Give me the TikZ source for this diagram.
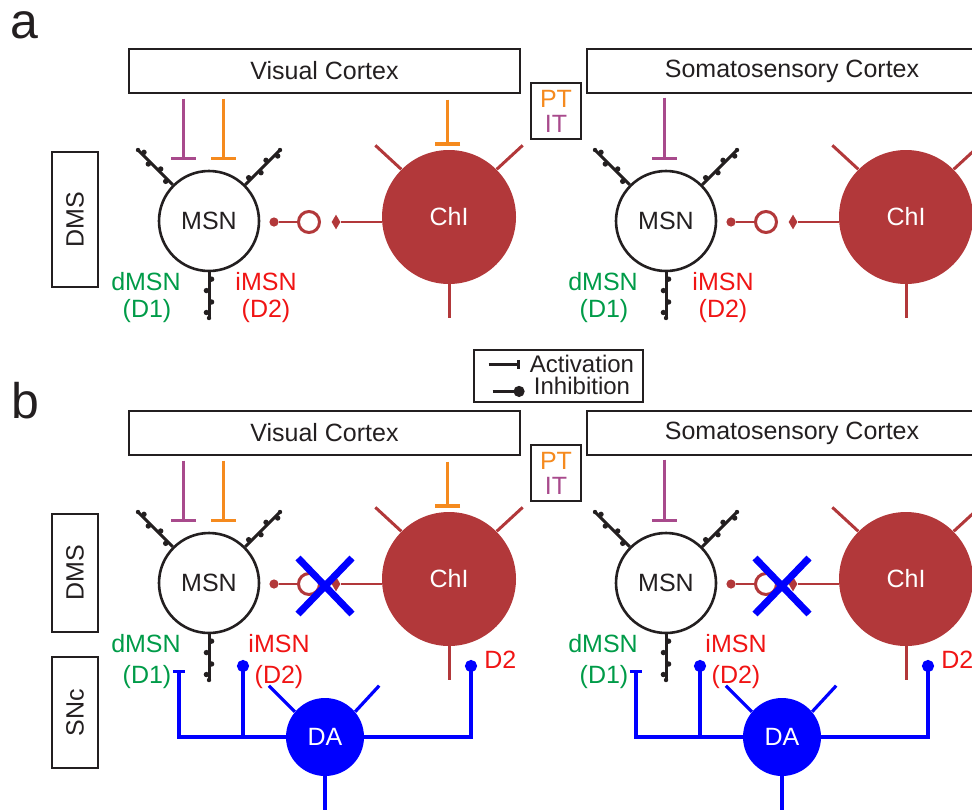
\documentclass[tikz,border=0pt]{standalone}
\usepackage{fontspec}
\setmainfont{Liberation Sans}
\usetikzlibrary{calc,shapes.geometric,arrows.meta}

\definecolor{ink}{RGB}{35,31,32}
\definecolor{itpurple}{RGB}{168,74,140}
\definecolor{ptorange}{RGB}{245,138,30}
\definecolor{chired}{RGB}{178,56,58}
\definecolor{dgreen}{RGB}{0,155,72}
\definecolor{ired}{RGB}{240,20,20}
\definecolor{dablue}{RGB}{0,0,255}

% spiny dendrite from soma border to tip
\newcommand{\spiny}[2]{%
  \draw[dend] (#1) -- (#2);
  \fill[ink] (#2) circle (1.1pt);
  \foreach \fr/\sd in {0.15/90,0.4/-90,0.65/90,0.88/-90}
    \fill[ink] ($(#1)!\fr!(#2)!1.3pt!\sd:(#2)$) circle (1.35pt);
}

\begin{document}
\begin{tikzpicture}[x=0.5pt,y=-0.5pt,
    every node/.style={font=\fontsize{12.5}{15}\selectfont,text=ink,inner sep=0pt},
    box/.style={draw=ink,line width=1.4pt,minimum height=22pt},
    sidebox/.style={draw=ink,line width=1.4pt,rotate=90,minimum height=23pt},
    soma/.style={circle,draw=ink,line width=1.3pt,minimum size=50pt},
    chi/.style={circle,fill=chired,minimum size=67pt,text=white},
    da/.style={circle,fill=dablue,minimum size=39pt,text=white},
    dend/.style={ink,line width=1.5pt},
    chiden/.style={chired,line width=1.5pt},
    daden/.style={dablue,line width=1.6pt},
    itin/.style={itpurple,line width=1.5pt,-{Bar[width=12.5pt,line width=1.6pt]}},
    ptin/.style={ptorange,line width=1.5pt,-{Bar[width=12.5pt,line width=1.6pt]}},
    syn/.style={chired,line width=1.2pt},
    rdot/.style={circle,fill=chired,minimum size=4.6pt},
    ring/.style={circle,draw=chired,fill=white,line width=1.5pt,minimum size=10.5pt},
    term/.style={diamond,fill=chired,minimum width=4.5pt,minimum height=7.5pt},
    cross/.style={dablue,line width=3.5pt},
    panel/.style={font=\fontsize{25}{30}\selectfont,anchor=base west},
    leg/.style={ink,line width=1.3pt},
    legtext/.style={font=\fontsize{12}{14}\selectfont,anchor=base}]
\useasboundingbox (0,0) rectangle (972,809);
\clip (0,0) rectangle (972,809);

\node[panel] (pa) at (10,38) {a};
\node[panel] (pb) at (11,418) {b};

\foreach \p/\dy/\lo/\li/\dmsy/\dmsl in {a/0/96/57/219.5/67.5,b/362/100/70/211/59}{
  \begin{scope}[shift={(0,\dy)}]
    \node[box,minimum width=195.5pt] (vis\p) at (324.5,71) {Visual Cortex};
    \node[box,minimum width=205pt] (som\p) at (792,71) {Somatosensory Cortex};
    \node[draw=ink,line width=1.4pt,minimum width=25pt,minimum height=28pt,align=center,
          font=\fontsize{12.5}{12.5}\selectfont] (ptit\p) at (556,111)
          {\textcolor{ptorange}{PT}\\\textcolor{itpurple}{IT}};
    \node[sidebox,minimum width=\dmsl pt] (dms\p) at (75,\dmsy) {DMS};
    \foreach \h/\dx in {l/0,r/457}{
      \begin{scope}[shift={(\dx,0)}]
        \node[soma] (msn\p\h) at (209,221) {MSN};
        \node[chi] (chi\p\h) at (449,217) {ChI};
        % spiny dendrites
        \coordinate (tl\p\h) at (138,150);
        \coordinate (tr\p\h) at (280,150);
        \coordinate (tb\p\h) at (209,318);
        \spiny{msn\p\h.135}{tl\p\h}
        \spiny{msn\p\h.45}{tr\p\h}
        \spiny{msn\p\h.south}{tb\p\h}
        \draw[chiden] (chi\p\h.135) -- ++(-26,-24);
        \draw[chiden] (chi\p\h.45) -- ++(26,-24);
        \draw[chiden] (chi\p\h.south) -- ++(0,34);
        % cholinergic synapse
        \node[rdot] (pre\p\h) at (274,222) {};
        \node[ring] (rec\p\h) at (309,222) {};
        \node[term] (ter\p\h) at (336,222) {};
        \draw[syn] (pre\p\h) -- (rec\p\h);
        \draw[syn] (ter\p\h) -- (ter\p\h -| chi\p\h.west);
        % receptor labels
        \node[anchor=base,text=dgreen] (dm\p\h) at ($(msn\p\h)+(-63,69)$) {dMSN};
        \node[anchor=base,text=dgreen] (dI\p\h) at ($(msn\p\h)+(-62,\lo)$) {(D1)};
        \node[anchor=base,text=ired] (im\p\h) at ($(msn\p\h)+(\li,69)$) {iMSN};
        \node[anchor=base,text=ired] (dII\p\h) at ($(msn\p\h)+(\li,\lo)$) {(D2)};
      \end{scope}
    }
    % cortical inputs
    \draw[itin] ($(msn\p l.north)+(-26,-71)$) -- ++(0,61);
    \draw[ptin] ($(msn\p l.north)+(14,-71)$) -- ++(0,61);
    \draw[ptin] ($(chi\p l.north)+(-1.5,-50)$) -- ++(0,46);
    \draw[itin] ($(msn\p r.north)+(-2,-72)$) -- ++(0,62);
  \end{scope}
}

% panel b: blocked synapse and dopamine input
\foreach \h/\dx in {l/0,r/457}{
  \begin{scope}[shift={(\dx,0)}]
    \coordinate (xc\h) at ($(recb\h)+(16,2)$);
    \draw[cross] ($(xc\h)+(-27,-28)$) -- ($(xc\h)+(27,28)$);
    \draw[cross] ($(xc\h)+(-27,28)$) -- ($(xc\h)+(27,-28)$);
    \node[da] (da\h) at (325,737) {DA};
    \draw[daden] (da\h.140) -- ++(-26,-26);
    \draw[daden] (da\h.40) -- ++(24,-26);
    \draw[daden] (da\h.south) -- ++(0,40);
    \coordinate (tone\h) at (179,670);
    \coordinate (ttwo\h) at (243,660);
    \coordinate (tthr\h) at (471,660);
    \draw[daden,{Bar[width=6pt]}-] (tone\h) |- (da\h);
    \draw[daden,{Circle[length=6pt]}-] (ttwo\h) -- (ttwo\h |- da\h);
    \draw[daden,{Circle[length=6pt]}-] (tthr\h) |- (da\h);
    \node[anchor=base west,text=ired] (dtwo\h) at (484,668) {D2};
  \end{scope}
}
\node[sidebox,minimum width=55.5pt] (snc) at (75,712.5) {SNc};

% legend
\node[draw=ink,line width=1.3pt,minimum width=84.5pt,minimum height=26pt] (leg) at (558.5,376) {};
\node[legtext] (act) at (582,372) {Activation};
\node[legtext] (inh) at (582,394) {Inhibition};
\draw[leg,-{Bar[width=4.5pt]}] ($(act.west)+(-41,1)$) -- ($(act.west)+(-10,1)$);
\draw[leg,-{Circle[length=5.5pt]}] ($(inh.west)+(-41,6)$) -- ($(inh.west)+(-9,6)$);
\end{tikzpicture}
\end{document}
